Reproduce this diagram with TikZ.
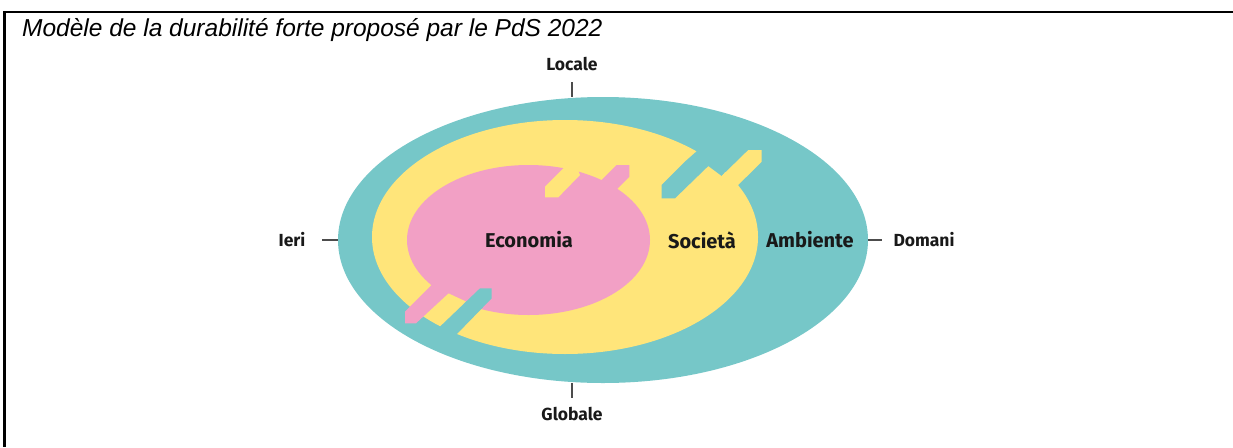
\documentclass[tikz,border=0pt]{standalone}
\usepackage{fontspec}
\setmainfont{Liberation Sans}
\newfontfamily\pdsfont{Fira Sans}
\usepackage{xcolor}
\usepackage{tikz}
\usetikzlibrary{positioning,shapes.geometric}
\definecolor{ambcol}{RGB}{118,199,200}
\definecolor{soccol}{RGB}{255,229,122}
\definecolor{ecocol}{RGB}{242,160,197}
\tikzset{ring/.style={ellipse, inner sep=0pt, draw=none}}
\tikzset{inlabel/.style={font=\pdsfont\bfseries\fontsize{20}{20}\selectfont, text=black!90, inner sep=1pt}}
\tikzset{outlabel/.style={font=\pdsfont\bfseries\fontsize{17.5}{17.5}\selectfont, text=black!90, inner sep=1pt}}
\tikzset{tick/.style={draw=black!70, line width=1.3pt}}

\begin{document}
\begin{tikzpicture}[x=1pt,y=-1pt]
	\useasboundingbox (0,0) rectangle (1233,447);
	\draw [line width=2.4pt] (1233,12) -- (4.5,12) -- (4.5,447);
	\node [anchor=base west, inner sep=0pt, font=\itshape\fontsize{24.5}{24.5}\selectfont] (titolo) at (22,36) {Modèle de la durabilité forte proposé par le PdS 2022};
	% the three nested rings
	\node [ring, fill=ambcol, minimum width=530pt, minimum height=286pt] (amb) at (603,240) {};
	\node [ring, fill=soccol, minimum width=386pt, minimum height=234pt] (soc) at (565,237) {};
	\node [ring, fill=ecocol, minimum width=243pt, minimum height=150pt] (eco) at (528.5,240) {};
	% steps economia / societa
	\fill [ecocol] (580,175) -- (600,181.7) -- (616.7,165) -- (629.3,165) -- (629.3,176.7) -- (606,200) -- (578,200) -- cycle;
	\fill [soccol] (545,186.7) -- (545,197.3) -- (558.3,197.3) -- (580,175) -- (575,163) -- (565,166.7) -- cycle;
	% steps societa / ambiente
	\fill [ambcol] (661.7,185) -- (661.7,198.3) -- (675,198.3) -- (708.3,166) -- (721.7,176) -- (735,160) -- (715,135) -- (686,160.7) -- cycle;
	\fill [soccol] (721.7,176) -- (748.3,150) -- (761.7,150) -- (761.7,161.7) -- (724,199) -- (705,190) -- cycle;
	% steps bottom left
	\fill [soccol] (448.3,293.3) -- (466,301.5) -- (444,322) -- (432,308) -- cycle;
	\fill [ecocol] (405,311.7) -- (405,323.3) -- (416,323.3) -- (452,290) -- (445,280) -- (431.7,285) -- cycle;
	\fill [ambcol] (480,288.3) -- (491.7,288.3) -- (491.7,298.3) -- (455,336) -- (430,336) -- (441.7,325) -- cycle;
	% labels
	\node [inlabel] (economia) at (529,240) {Economia};
	\node [inlabel] (societa) at (702,240) {Società};
	\node [inlabel] (ambiente) at (810,240) {Ambiente};
	\node [outlabel] (locale) at (572,64) {Locale};
	\node [outlabel] (globale) at (572,414) {Globale};
	\node [outlabel] (ieri) at (292,240) {Ieri};
	\node [outlabel] (domani) at (924,240) {Domani};
	\draw [tick, shorten >=10pt] (locale.south |- amb.north) -- (locale.south);
	\draw [tick, shorten >=8pt] (globale.north |- amb.south) -- (globale.north);
	\draw [tick, shorten >=15pt] (amb.west) -- (ieri.east);
	\draw [tick, shorten >=10pt] (amb.east) -- (domani.west);
\end{tikzpicture}
\end{document}
